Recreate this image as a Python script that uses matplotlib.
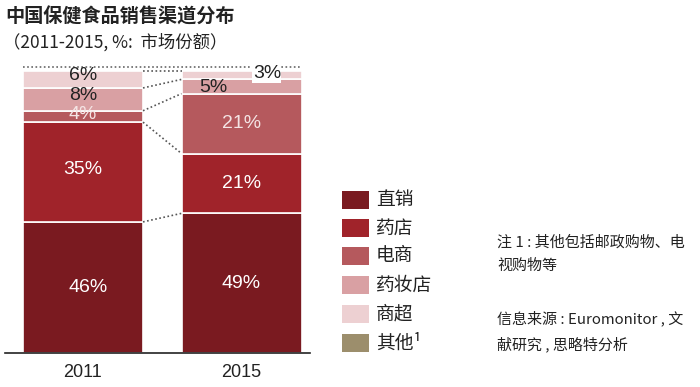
import matplotlib
matplotlib.use("Agg")
import matplotlib.pyplot as plt
from matplotlib.patches import Rectangle

plt.rcParams['font.family'] = ['Noto Sans CJK SC', 'DejaVu Sans']

years = ['2011', '2015']
channels = ['直销', '药店', '电商', '药妆店', '商超', '其他¹']
values_2011 = [46, 35, 4, 8, 6, 1]
values_2015 = [49, 21, 21, 5, 3, 1]
colors = ['#7A1A20', '#A0232A', '#B5595D', '#D9A0A3', '#EDD0D2', '#9C8E6C']
label_colors = ['white', 'white', '#F4E4E4', '#222222', '#222222', None]

title = '中国保健食品销售渠道分布'
subtitle = '（2011-2015, %:  市场份额）'
note1 = '注 1 : 其他包括邮政购物、电\n视购物等'
note2 = '信息来源 : Euromonitor , 文\n献研究 , 思略特分析'

fig = plt.figure(figsize=(7.0, 3.87), dpi=100)
W, H = 700, 387

x0, x1 = 5, 310
ytop, ybot = 68, 353
ax = fig.add_axes([x0 / W, (H - ybot) / H, (x1 - x0) / W, (ybot - ytop) / H])
cx = [83, 241.5]
unit = cx[1] - cx[0]
bw = 120 / unit
ax.set_xlim(-(cx[0] - x0) / unit, 1 + (x1 - cx[1]) / unit)
ax.set_ylim(0, 100)

data = [values_2011, values_2015]
cums = []
for xi, vals in enumerate(data):
    bottom = 0
    c = [0]
    for k, v in enumerate(vals):
        if k == len(vals) - 1:
            ax.bar(xi, v, bw, bottom=bottom, color='white', edgecolor='none')
        else:
            ax.bar(xi, v, bw, bottom=bottom, color=colors[k], edgecolor='white', linewidth=1.2)
        bottom += v
        c.append(bottom)
    cums.append(c)

lab_pos = {
    (0, 0): (0.03, 23.0), (0, 1): (0, 64.5), (0, 2): (0, 83.8), (0, 3): (0, 90.5), (0, 4): (0, 97.2),
    (1, 0): (1, 24.5), (1, 1): (1, 59.5), (1, 2): (1, 80.5), (1, 3): (0.82, 93.0), (1, 4): (1.16, 98.0),
}
for xi, vals in enumerate(data):
    for k in range(len(vals) - 1):
        v = vals[k]
        x, y = lab_pos[(xi, k)]
        kw = {}
        if (xi, k) == (1, 4):
            kw['bbox'] = dict(facecolor='white', edgecolor='none', pad=0.3)
        ax.text(x, y, f'{v}%', ha='center', va='center', fontsize=14,
                color=label_colors[k], family=['Liberation Sans', 'DejaVu Sans'], **kw)

for k in range(1, len(channels)):
    y1 = cums[0][k]
    y2 = cums[1][k]
    ax.plot([0 + bw / 2, 1 - bw / 2], [y1, y2], ls=(0, (1, 1.5)), color='#555555', lw=1.2)
ax.plot([-bw / 2, 1 + bw / 2], [100.3, 100.3], ls=(0, (1, 1.5)), color='#666666', lw=1.2,
        clip_on=False)

for s in ['top', 'right', 'left']:
    ax.spines[s].set_visible(False)
ax.spines['bottom'].set_color('#222222')
ax.spines['bottom'].set_linewidth(1.2)
ax.set_yticks([])
ax.set_xticks([0, 1])
ax.set_xticklabels(years, fontsize=13, family=['Liberation Sans', 'DejaVu Sans'], color='#222222')
ax.tick_params(axis='x', length=0, pad=8)

fig.text(5 / W, 1 - 17 / H, title, fontsize=13.8, fontweight='bold', va='center', ha='left', color='#222222')
fig.text(3 / W, 1 - 42 / H, subtitle, fontsize=12.5, va='center', ha='left', color='#222222')

leg_y = [200, 228, 256, 285, 314, 343]
for k, name in enumerate(channels):
    yc = leg_y[k]
    fig.patches.append(Rectangle((342 / W, 1 - (yc + 9) / H), 27 / W, 18 / H,
                                 transform=fig.transFigure, facecolor=colors[k], edgecolor='none'))
    fig.text(376 / W, 1 - yc / H, name, fontsize=13.5, va='center', ha='left', color='#222222')

fig.text(497 / W, 1 - 254 / H, note1, fontsize=10.8, va='center', ha='left', color='#222222', linespacing=1.85)
fig.text(497 / W, 1 - 331.5 / H, note2, fontsize=10.8, va='center', ha='left', color='#222222', linespacing=1.85)

fig.savefig('out.png', dpi=100)
